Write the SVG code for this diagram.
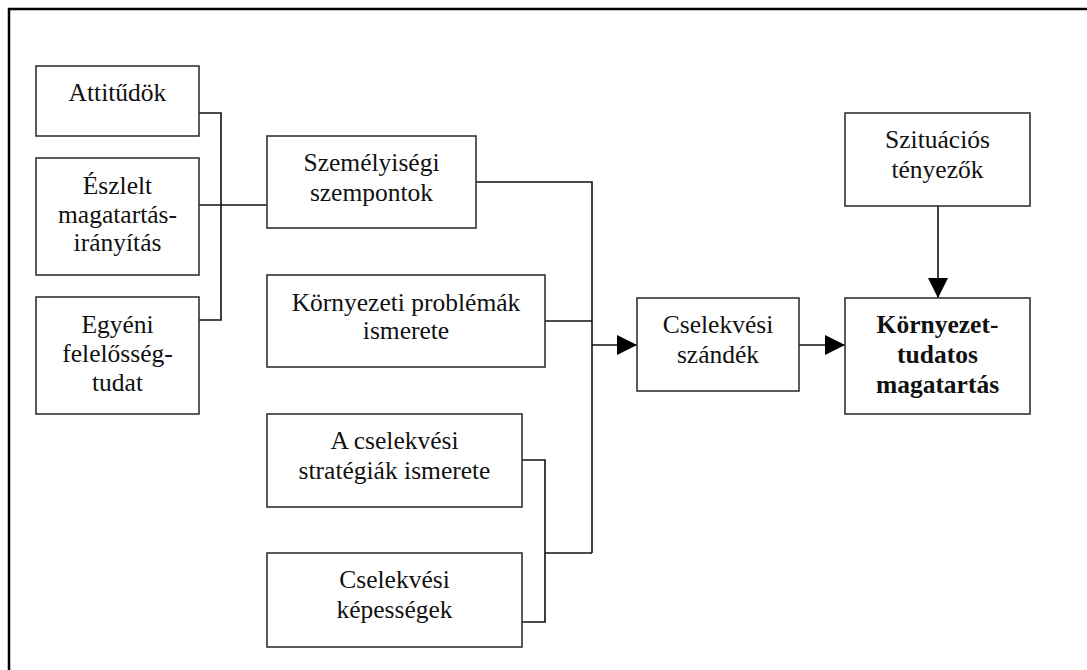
<svg xmlns="http://www.w3.org/2000/svg" width="1087" height="670" viewBox="0 0 1087 670">
<style>
.box{fill:#fff;stroke:#333;stroke-width:1.6}
.t{font-family:"Liberation Serif","Times New Roman",serif;font-size:25.5px;fill:#111;text-anchor:middle}
.b{font-weight:bold}
.ln{fill:none;stroke:#111;stroke-width:1.6}
.frame{fill:none;stroke:#000;stroke-width:2.5}
</style>
<defs>
<marker id="ah" markerUnits="userSpaceOnUse" markerWidth="20" markerHeight="20" refX="20" refY="10" orient="auto" viewBox="0 0 20 20">
<path d="M0,0 L20,10 L0,20 Z" fill="#000"/>
</marker>
</defs>
<rect width="1087" height="670" fill="#fff"/>
<path class="frame" d="M9,672 L9,9 L1090,9"/>
<g id="connectors">
<path class="ln" d="M199,113 H221 V320 H199"/>
<path class="ln" d="M199,205 H267"/>
<path class="ln" d="M476,182 H592 V553"/>
<path class="ln" d="M545,321 H592"/>
<path class="ln" d="M522,460 H545 V622 H522"/>
<path class="ln" d="M545,553 H592"/>
<path class="ln" d="M592,345 H637" marker-end="url(#ah)"/>
<path class="ln" d="M799,345 H845" marker-end="url(#ah)"/>
<path class="ln" d="M938,206 V298" marker-end="url(#ah)"/>
</g>
<g id="attitudok">
<rect class="box" x="36" y="66" width="163" height="70"/>
<text class="t" x="117.5" y="101">Attitűdök</text>
</g>
<g id="eszlelt">
<rect class="box" x="36" y="158" width="163" height="117"/>
<text class="t" x="117.5" y="194">Észlelt</text>
<text class="t" x="117.5" y="223">magatartás-</text>
<text class="t" x="117.5" y="251">irányítás</text>
</g>
<g id="egyeni">
<rect class="box" x="36" y="297" width="163" height="117"/>
<text class="t" x="117.5" y="333">Egyéni</text>
<text class="t" x="117.5" y="362">felelősség-</text>
<text class="t" x="117.5" y="391">tudat</text>
</g>
<g id="szemelyisegi">
<rect class="box" x="267" y="136" width="209" height="92"/>
<text class="t" x="371.5" y="171">Személyiségi</text>
<text class="t" x="371.5" y="201">szempontok</text>
</g>
<g id="kornyezeti">
<rect class="box" x="267" y="275" width="278" height="92"/>
<text class="t" x="406" y="311">Környezeti problémák</text>
<text class="t" x="406" y="339">ismerete</text>
</g>
<g id="strategiak">
<rect class="box" x="267" y="414" width="255" height="93"/>
<text class="t" x="394.5" y="449">A cselekvési</text>
<text class="t" x="394.5" y="479">stratégiák ismerete</text>
</g>
<g id="kepessegek">
<rect class="box" x="267" y="553" width="255" height="94"/>
<text class="t" x="394.5" y="588">Cselekvési</text>
<text class="t" x="394.5" y="618">képességek</text>
</g>
<g id="szandek">
<rect class="box" x="637" y="298" width="162" height="93"/>
<text class="t" x="718" y="333">Cselekvési</text>
<text class="t" x="718" y="363">szándék</text>
</g>
<g id="szituacios">
<rect class="box" x="845" y="113" width="185" height="93"/>
<text class="t" x="937.5" y="148">Szituációs</text>
<text class="t" x="937.5" y="178">tényezők</text>
</g>
<g id="kornyezettudatos">
<rect class="box" x="845" y="298" width="185" height="116"/>
<text class="t b" x="937.5" y="333">Környezet-</text>
<text class="t b" x="937.5" y="363">tudatos</text>
<text class="t b" x="937.5" y="393">magatartás</text>
</g>
</svg>
